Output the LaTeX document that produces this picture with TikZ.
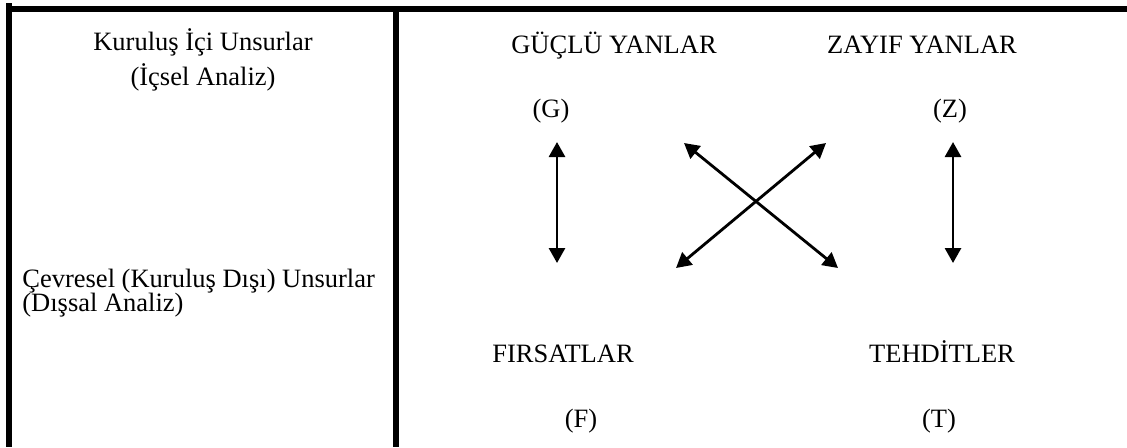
\documentclass[tikz,border=0pt]{standalone}
\usepackage{fontspec}
\setmainfont{Liberation Serif}
\usetikzlibrary{arrows.meta}
\begin{document}
\begin{tikzpicture}[x=0.5pt,y=-0.5pt,
  txt/.style={inner sep=0pt,anchor=base,font=\fontsize{13.25}{16}\selectfont},
  rule/.style={line width=3pt},
  dbl/.style={line width=1.4pt,{Triangle[length=7.5pt,width=8pt]}-{Triangle[length=7.5pt,width=8pt]}}]
\useasboundingbox (0,0) rectangle (1127,447);
% borders
\draw[rule] (9,3) -- (9,447);
\draw[rule] (6,9) -- (1127,9);
\draw[rule] (396,9) -- (396,447);
% left column texts
\node[txt] (ic1) at (203,50) {Kuruluş İçi Unsurlar};
\node[txt] (ic2) at (203,85) {(İçsel Analiz)};
\node[txt,anchor=base west] (dis1) at (22,287) {Çevresel (Kuruluş Dışı) Unsurlar};
\node[txt,anchor=base west] (dis2) at (22,311) {(Dışsal Analiz)};
% SWOT labels
\node[txt] (gy) at (614,53) {GÜÇLÜ YANLAR};
\node[txt] (g) at (551,117) {(G)};
\node[txt] (zy) at (922,53) {ZAYIF YANLAR};
\node[txt] (z) at (950,117) {(Z)};
\node[txt] (fy) at (563,362) {FIRSATLAR};
\node[txt] (f) at (581,427) {(F)};
\node[txt] (ty) at (942,362) {TEHDİTLER};
\node[txt] (t) at (939,427) {(T)};
% arrow end points
\coordinate (gtop) at (557,142);
\coordinate (fbot) at (557,263);
\coordinate (ztop) at (953,142);
\coordinate (tbot) at (953,263);
\coordinate (xtl) at (684,143);
\coordinate (xtr) at (826,143);
\coordinate (xbl) at (676,268);
\coordinate (xbr) at (838,268);
\draw[dbl] (gtop) -- (fbot);
\draw[dbl] (ztop) -- (tbot);
\draw[dbl] (xtl) -- (xbr);
\draw[dbl] (xtr) -- (xbl);
\end{tikzpicture}
\end{document}
